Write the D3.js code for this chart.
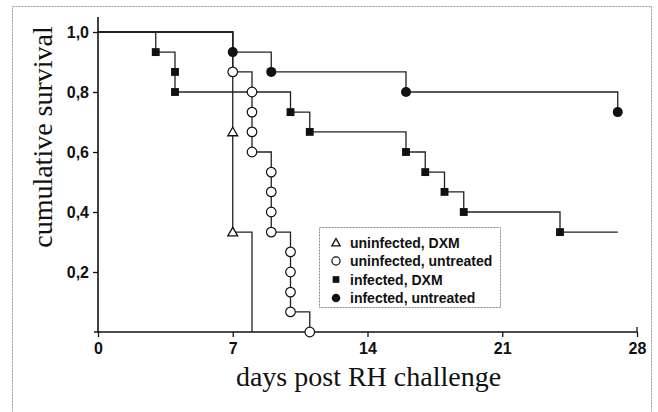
<!DOCTYPE html>
<html>
<head>
<meta charset="utf-8">
<script src="https://cdn.jsdelivr.net/npm/d3@7"></script>
<style>
  body { margin: 0; background: #fff; }
  svg { display: block; }
</style>
</head>
<body>
<svg id="chart" width="658" height="412"></svg>
<script>
// Kaplan-Meier events: [day, survival after event]
const uninfectedDXM = [[7, 0.667], [7, 0.333], [8, 0]];
const uninfectedUntreated = [[7, 0.867], [8, 0.8], [8, 0.733], [8, 0.667], [8, 0.6],
    [9, 0.533], [9, 0.467], [9, 0.4], [9, 0.333],
    [10, 0.267], [10, 0.2], [10, 0.133], [10, 0.067], [11, 0]];
const infectedDXM = [[3, 0.933], [4, 0.867], [4, 0.8], [10, 0.733], [11, 0.667],
    [16, 0.6], [17, 0.533], [18, 0.467], [19, 0.4], [24, 0.333]];
const infectedUntreated = [[7, 0.933], [9, 0.867], [16, 0.8], [27, 0.733]];
const seriesNames = ['uninfected, DXM', 'uninfected, untreated', 'infected, DXM', 'infected, untreated'];
const seriesEnd = [8, 11, 27, 27];
const xTicks = [0, 7, 14, 21, 28];
const yTicks = [0.2, 0.4, 0.6, 0.8, 1.0];

const svg = d3.select('#chart');

// dotted frame round the figure
svg.append('rect')
    .attr('x', 12.5).attr('y', 6.5)
    .attr('width', 639).attr('height', 420)
    .attr('fill', 'none')
    .attr('stroke', '#999')
    .attr('stroke-width', 1)
    .attr('stroke-dasharray', '2,1');

const xScale = d3.scaleLinear().domain([0, 28]).range([98, 637]);
const yScale = d3.scaleLinear().domain([0, 1]).range([332, 32]);

// axes
const xAxis = d3.axisBottom(xScale)
    .tickValues(xTicks)
    .tickSize(5)
    .tickPadding(6)
    .tickFormat(d3.format('d'));
const yAxis = d3.axisLeft(yScale)
    .tickValues(yTicks)
    .tickSize(5)
    .tickPadding(4)
    .tickFormat(d => d3.format('.1f')(d).replace('.', ','));

const gx = svg.append('g')
    .attr('transform', `translate(0,${yScale(0)})`)
    .call(xAxis);
const gy = svg.append('g')
    .attr('transform', `translate(${xScale(0)},0)`)
    .call(yAxis);

[gx, gy].forEach(g => {
    g.select('.domain').remove();
    g.selectAll('.tick line').attr('stroke', '#111').attr('stroke-width', 1.3);
    g.selectAll('.tick text')
        .attr('fill', '#111')
        .style('font-family', 'Liberation Sans, Arial, sans-serif')
        .style('font-weight', 'bold')
        .style('font-size', '16px');
});

// axis lines drawn separately so they overshoot a little like the original
svg.append('line')
    .attr('x1', xScale(0) - 4).attr('x2', xScale(28))
    .attr('y1', yScale(0)).attr('y2', yScale(0))
    .attr('stroke', '#111').attr('stroke-width', 1.6);
svg.append('line')
    .attr('x1', xScale(0)).attr('x2', xScale(0))
    .attr('y1', 17).attr('y2', yScale(0))
    .attr('stroke', '#111').attr('stroke-width', 1.6);
svg.append('line')
    .attr('x1', xScale(28)).attr('x2', xScale(28))
    .attr('y1', yScale(0) - 5).attr('y2', yScale(0))
    .attr('stroke', '#111').attr('stroke-width', 1.3);
svg.append('line')
    .attr('x1', xScale(0)).attr('x2', xScale(0) + 3)
    .attr('y1', yScale(1)).attr('y2', yScale(1))
    .attr('stroke', '#111').attr('stroke-width', 1.3);

// axis titles
svg.append('text')
    .attr('x', (xScale(0) + xScale(28)) / 2 + 1)
    .attr('y', 386)
    .attr('text-anchor', 'middle')
    .style('font-family', 'Liberation Serif, Times New Roman, serif')
    .style('font-size', '28px')
    .attr('fill', '#111')
    .text('days post RH challenge');

svg.append('text')
    .attr('transform', 'rotate(-90)')
    .attr('x', -137)
    .attr('y', 52)
    .attr('text-anchor', 'middle')
    .style('font-family', 'Liberation Serif, Times New Roman, serif')
    .style('font-size', '28px')
    .attr('fill', '#111')
    .text('cumulative survival');

// step curves
function stepPoints(events, end) {
    const pts = [[0, 1]];
    let prev = 1;
    events.forEach(([t, v]) => {
        pts.push([t, prev]);
        pts.push([t, v]);
        prev = v;
    });
    const last = events[events.length - 1][0];
    if (end > last) pts.push([end, prev]);
    return pts;
}

const allSeries = [uninfectedDXM, uninfectedUntreated, infectedDXM, infectedUntreated];
const line = d3.line().x(d => xScale(d[0])).y(d => yScale(d[1]));

allSeries.forEach((events, i) => {
    svg.append('path')
        .attr('d', line(stepPoints(events, seriesEnd[i])))
        .attr('fill', 'none')
        .attr('stroke', '#222')
        .attr('stroke-width', 1.3);
});

// markers
function drawMarker(g, kind, x, y, scale) {
    const k = scale || 1;
    if (kind === 0) {
        g.append('path').attr('d', d3.symbol().type(d3.symbolTriangle).size(42 * k * k)())
            .attr('transform', `translate(${x},${y + 1})`)
            .attr('fill', '#fff').attr('stroke', '#111').attr('stroke-width', 1.3);
    } else if (kind === 1) {
        g.append('circle').attr('cx', x).attr('cy', y).attr('r', 4.8 * k)
            .attr('fill', '#fff').attr('stroke', '#111').attr('stroke-width', 1.2);
    } else if (kind === 2) {
        g.append('path').attr('d', d3.symbol().type(d3.symbolSquare).size(62 * k * k)())
            .attr('transform', `translate(${x},${y})`)
            .attr('fill', '#111');
    } else {
        g.append('circle').attr('cx', x).attr('cy', y).attr('r', 5 * k)
            .attr('fill', '#111');
    }
}

const markerLayer = svg.append('g');
allSeries.forEach((events, i) => {
    events.forEach(([t, v]) => {
        if (i === 0 && v === 0) return;
        drawMarker(markerLayer, i, xScale(t), yScale(v));
    });
});

// legend
const legend = svg.append('g');
legend.append('rect')
    .attr('x', 319.5).attr('y', 227.5)
    .attr('width', 181).attr('height', 80)
    .attr('fill', '#fff')
    .attr('stroke', '#888')
    .attr('stroke-width', 1)
    .attr('stroke-dasharray', '2,1');

seriesNames.forEach((name, i) => {
    const y = 242.5 + i * 18.5;
    drawMarker(legend, i, 336, y, 0.85);
    legend.append('text')
        .attr('x', 350)
        .attr('y', y + 5)
        .style('font-family', 'Liberation Sans, Arial, sans-serif')
        .style('font-weight', 'bold')
        .style('font-size', '14px')
        .attr('fill', '#111')
        .text(name);
});
</script>
</body>
</html>
